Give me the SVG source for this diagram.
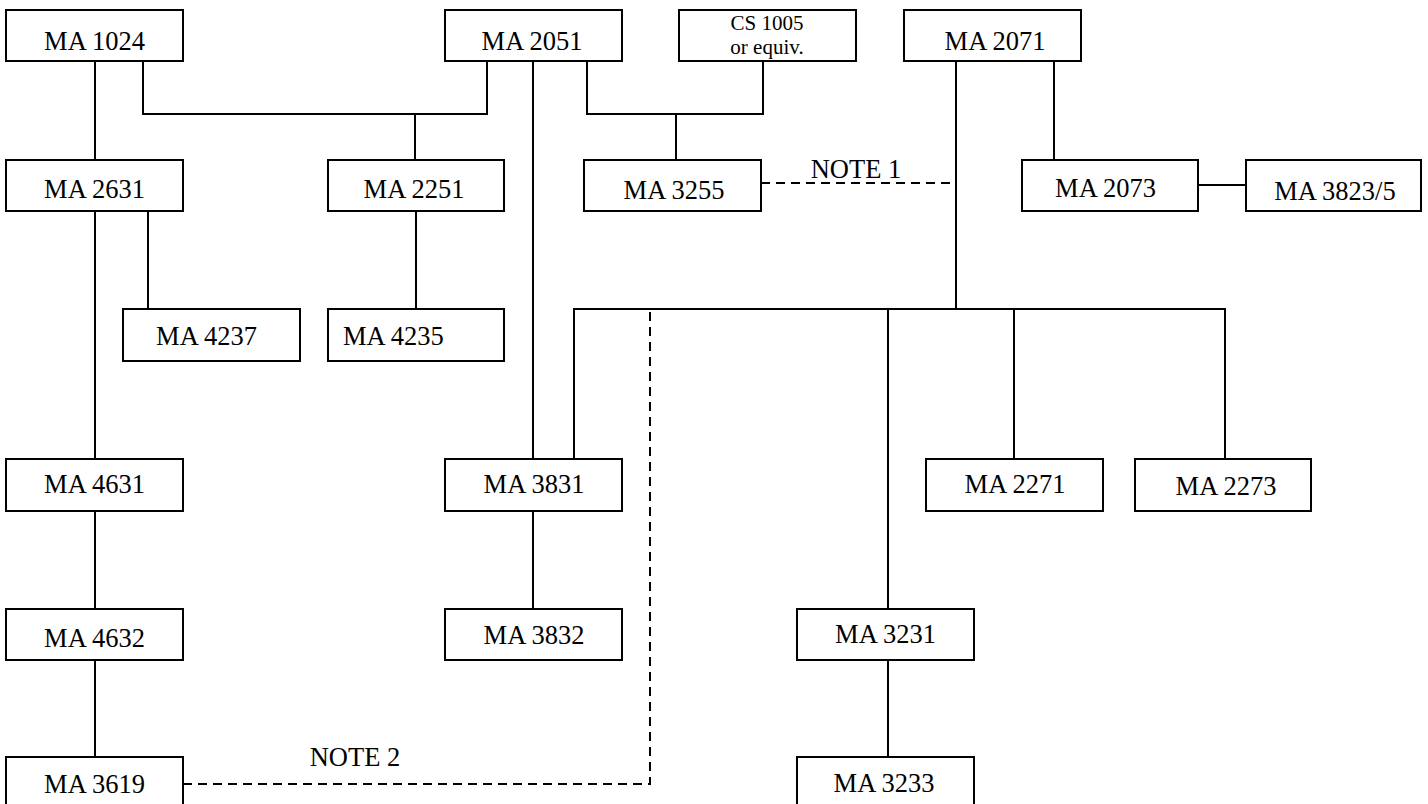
<svg xmlns="http://www.w3.org/2000/svg" width="1428" height="804" viewBox="0 0 1428 804">
<style>
.box{fill:#fff;stroke:#000;stroke-width:2}
.t{font-family:"Liberation Serif","Times New Roman",serif;font-size:26.5px;fill:#000;text-anchor:middle}
.s{font-family:"Liberation Serif","Times New Roman",serif;font-size:21px;fill:#000;text-anchor:middle}
.c{fill:none;stroke:#000;stroke-width:2}
.d{fill:none;stroke:#000;stroke-width:2;stroke-dasharray:9 6}
</style>
<rect x="0" y="0" width="1428" height="804" fill="#fff"/>
<g id="connectors">
<path class="c" d="M95,61V160"/>
<path class="c" d="M143,61V114H487V61"/>
<path class="c" d="M415,114V160"/>
<path class="c" d="M533,61V459"/>
<path class="c" d="M587,61V114H763V61"/>
<path class="c" d="M676,114V160"/>
<path class="c" d="M956,61V309"/>
<path class="c" d="M1054,61V160"/>
<path class="c" d="M1198,185H1246"/>
<path class="c" d="M95,211V459"/>
<path class="c" d="M148,211V309"/>
<path class="c" d="M416,211V309"/>
<path class="c" d="M574,459V309H1225V459"/>
<path class="c" d="M888,309V609"/>
<path class="c" d="M1014,309V459"/>
<path class="c" d="M95,511V609"/>
<path class="c" d="M533,511V609"/>
<path class="c" d="M95,660V757"/>
<path class="c" d="M888,660V757"/>
<path class="d" d="M761,183H956"/>
<path class="d" d="M183,784H650V312"/>
<text class="t" x="856" y="178">NOTE 1</text>
<text class="t" x="355" y="766">NOTE 2</text>
</g>
<g id="n1024"><rect class="box" x="6" y="10" width="177" height="51"/><text class="t" x="94.5" y="50">MA 1024</text></g>
<g id="n2051"><rect class="box" x="445" y="10" width="177" height="51"/><text class="t" x="532" y="50">MA 2051</text></g>
<g id="cs1005"><rect class="box" x="679" y="10" width="177" height="51"/><text class="s" x="767" y="30">CS 1005</text><text class="s" x="767" y="54">or equiv.</text></g>
<g id="n2071"><rect class="box" x="904" y="10" width="177" height="51"/><text class="t" x="995" y="50">MA 2071</text></g>
<g id="n2631"><rect class="box" x="6" y="160" width="177" height="51"/><text class="t" x="94.5" y="198">MA 2631</text></g>
<g id="n2251"><rect class="box" x="328" y="160" width="176" height="51"/><text class="t" x="414" y="198">MA 2251</text></g>
<g id="n3255"><rect class="box" x="584" y="160" width="177" height="51"/><text class="t" x="674" y="199">MA 3255</text></g>
<g id="n2073"><rect class="box" x="1022" y="160" width="176" height="51"/><text class="t" x="1105.5" y="197">MA 2073</text></g>
<g id="n3823"><rect class="box" x="1246" y="160" width="175" height="51"/><text class="t" x="1335" y="200">MA 3823/5</text></g>
<g id="n4237"><rect class="box" x="123" y="309" width="177" height="52"/><text class="t" x="206.5" y="345">MA 4237</text></g>
<g id="n4235"><rect class="box" x="328" y="309" width="176" height="52"/><text class="t" x="343" y="345" style="text-anchor:start">MA 4235</text></g>
<g id="n4631"><rect class="box" x="6" y="459" width="177" height="52"/><text class="t" x="94.5" y="493">MA 4631</text></g>
<g id="n3831"><rect class="box" x="445" y="459" width="177" height="52"/><text class="t" x="534" y="493">MA 3831</text></g>
<g id="n2271"><rect class="box" x="926" y="459" width="177" height="52"/><text class="t" x="1015" y="493">MA 2271</text></g>
<g id="n2273"><rect class="box" x="1135" y="459" width="176" height="52"/><text class="t" x="1226" y="495">MA 2273</text></g>
<g id="n4632"><rect class="box" x="6" y="609" width="177" height="51"/><text class="t" x="94.5" y="647">MA 4632</text></g>
<g id="n3832"><rect class="box" x="445" y="609" width="177" height="51"/><text class="t" x="534" y="644">MA 3832</text></g>
<g id="n3231"><rect class="box" x="797" y="609" width="177" height="51"/><text class="t" x="885.5" y="643">MA 3231</text></g>
<g id="n3619"><rect class="box" x="6" y="757" width="177" height="51"/><text class="t" x="94.5" y="793">MA 3619</text></g>
<g id="n3233"><rect class="box" x="797" y="757" width="177" height="51"/><text class="t" x="884" y="792">MA 3233</text></g>
</svg>
